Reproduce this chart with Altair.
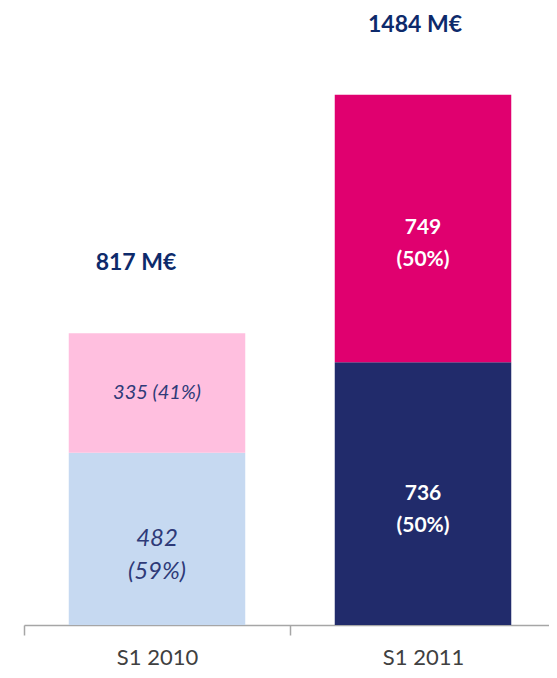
import altair as alt
import pandas as pd

periods = ["S1 2010", "S1 2011"]
bottom_values = [482, 736]
top_values = [335, 749]
bottom_pct = [59, 50]
top_pct = [41, 50]
totals = [817, 1484]

seg_keys = ["S1 2010|bottom", "S1 2010|top", "S1 2011|bottom", "S1 2011|top"]
seg_colors = ["#c6d9f1", "#ffbfdf", "#212b6b", "#e0006f"]

rows = []
for i, p in enumerate(periods):
    rows.append(dict(period=p, seg="bottom", order=0, value=bottom_values[i],
                     key=f"{p}|bottom", label=f"{bottom_values[i]}\n({bottom_pct[i]}%)"))
    top_label = (f"{top_values[i]} ({top_pct[i]}%)" if i == 0
                 else f"{top_values[i]}\n({top_pct[i]}%)")
    rows.append(dict(period=p, seg="top", order=1, value=top_values[i],
                     key=f"{p}|top", label=top_label))
df = pd.DataFrame(rows)

tot_df = pd.DataFrame({"period": periods, "total": totals,
                       "label": [f"{t} M€" for t in totals]})

FONT = "Lato"

x_enc = alt.X(
    "period:N", sort=periods,
    scale=alt.Scale(domain=periods, paddingInner=0, paddingOuter=0, range=[0, 532]),
    axis=alt.Axis(title=None, labelAngle=0, tickBand="extent", grid=False,
                  domainColor="#a6a6a6", domainWidth=1.5, tickColor="#a6a6a6",
                  tickWidth=1.5, tickSize=10, labelFont=FONT, labelFontSize=22,
                  labelColor="#404040", labelPadding=12),
)
y_scale = alt.Scale(domain=[0, 1727.6], nice=False, zero=True)

base = (alt.Chart(df)
        .transform_stack(stack="value", groupby=["period"], as_=["y0", "y1"],
                         sort=[alt.SortField("order", order="ascending")])
        .transform_calculate(mid="(datum.y0 + datum.y1) / 2"))

bars = base.mark_bar(width=alt.RelativeBandSize(176.5 / 266)).encode(
    x=x_enc,
    y=alt.Y("y0:Q", scale=y_scale, axis=None),
    y2="y1:Q",
    color=alt.Color("key:N", scale=alt.Scale(domain=seg_keys, range=seg_colors),
                    legend=None),
)

def seg_text(key, **kw):
    return base.transform_filter(alt.datum.key == key).mark_text(
        font=FONT, lineBreak="\n", baseline="middle", align="center", **kw
    ).encode(x=x_enc, y=alt.Y("mid:Q", scale=y_scale, axis=None), text="label:N")

t1 = seg_text("S1 2010|bottom", fontSize=24, fontStyle="italic", color="#2e3a78", lineHeight=33)
t2 = seg_text("S1 2010|top", fontSize=20, fontStyle="italic", color="#2e3a78")
t3 = seg_text("S1 2011|bottom", fontSize=21, fontWeight="bold", color="white", lineHeight=32)
t4 = seg_text("S1 2011|top", fontSize=21, fontWeight="bold", color="white", lineHeight=32)

def tot_text(period, dx):
    return alt.Chart(tot_df).transform_filter(alt.datum.period == period).mark_text(
        font=FONT, fontSize=23, fontWeight="bold", color="#0d2a6b",
        baseline="middle", align="center", dx=dx, dy=-70
    ).encode(x=x_enc, y=alt.Y("total:Q", scale=y_scale, axis=None), text="label:N")

tot1 = tot_text("S1 2010", -21)
tot2 = tot_text("S1 2011", -8)

chart = alt.layer(bars, t1, t2, t3, t4, tot1, tot2).properties(
    width=525, height=617,
    autosize=alt.AutoSizeParams(type="none"),
    padding={"left": 16, "top": 0, "right": 0, "bottom": 45},
).configure_view(stroke=None)

chart.save("out.html", embed_options={"renderer": "svg", "actions": False})
